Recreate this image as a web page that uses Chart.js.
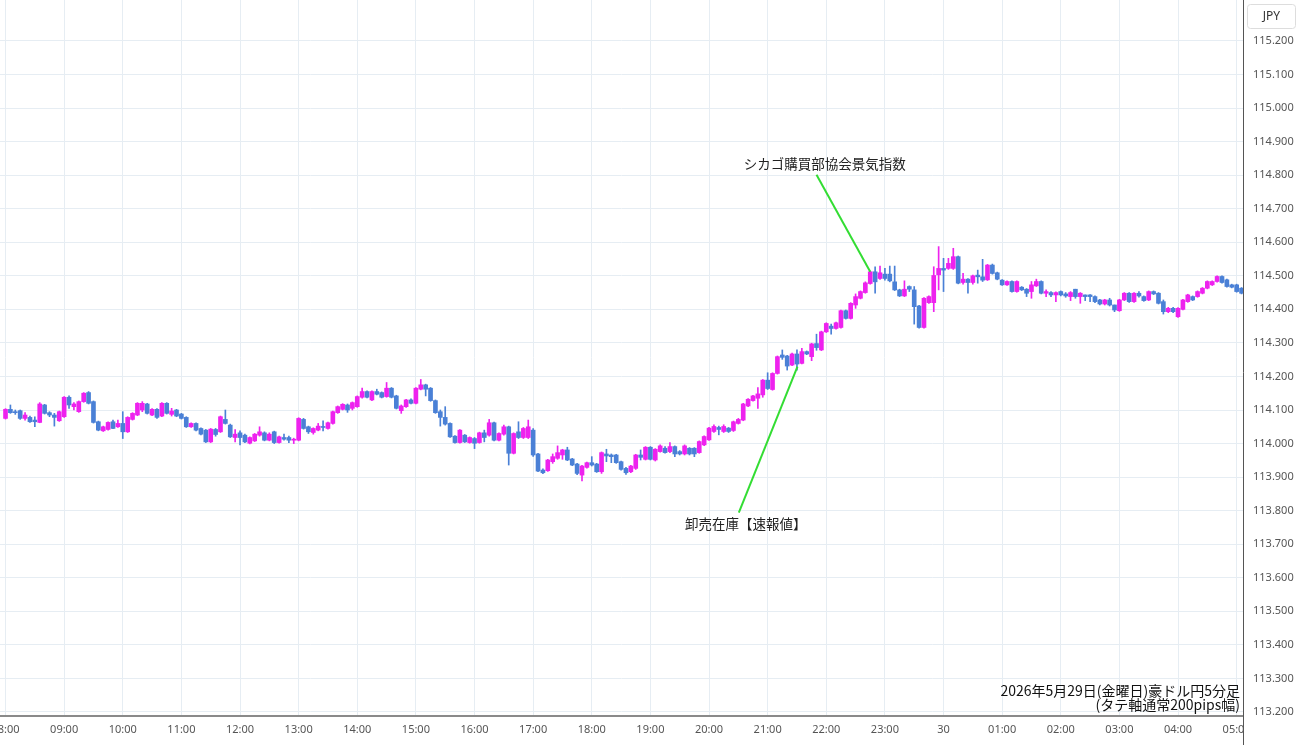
<!DOCTYPE html>
<html lang="ja">
<head>
<meta charset="utf-8">
<title>豪ドル円 5分足</title>
<script src="https://cdn.jsdelivr.net/npm/chart.js@4.4.1/dist/chart.umd.min.js"></script>
<style>
  html, body { margin: 0; padding: 0; background: #fff; }
  #wrap { width: 1300px; height: 745px; position: relative; }
</style>
</head>
<body>
<div id="wrap"><canvas id="chart"></canvas></div>
<script>
// 5-minute candles, index 0 = 08:00, one step = 5 min
const opens = [
  114.075,114.102,114.095,114.098,114.075,114.078,114.070,114.063,114.115,114.092,
  114.085,114.068,114.080,114.138,114.110,114.095,114.125,114.152,114.125,114.065,
  114.038,114.042,114.065,114.050,114.060,114.035,114.072,114.085,114.100,114.118,
  114.085,114.102,114.082,114.120,114.087,114.100,114.088,114.078,114.050,114.060,
  114.045,114.040,114.005,114.042,114.035,114.072,114.055,114.018,114.032,114.025,
  114.001,114.008,114.025,114.032,114.010,114.035,114.003,114.018,114.018,114.010,
  114.010,114.072,114.050,114.033,114.040,114.050,114.045,114.060,114.092,114.102,
  114.115,114.105,114.110,114.138,114.155,114.130,114.155,114.152,114.140,114.165,
  114.142,114.098,114.110,114.130,114.120,114.162,114.175,114.165,114.128,114.095,
  114.078,114.060,114.022,114.003,114.025,114.003,114.015,114.003,114.032,114.025,
  114.062,114.010,114.028,114.050,113.971,114.035,114.018,114.018,114.040,113.969,
  113.921,113.919,113.946,113.956,113.966,113.981,113.954,113.939,113.906,113.929,
  113.943,113.939,113.916,113.969,113.966,113.966,113.946,113.926,113.916,113.926,
  113.966,113.953,113.989,113.951,113.976,113.986,113.976,113.991,113.976,113.969,
  113.986,113.986,113.973,113.996,114.011,114.036,114.048,114.036,114.046,114.039,
  114.060,114.070,114.112,114.128,114.135,114.145,114.189,114.161,114.209,114.264,
  114.261,114.234,114.267,114.239,114.274,114.259,114.298,114.279,114.333,114.350,
  114.343,114.346,114.396,114.373,114.413,114.433,114.450,114.477,114.512,114.492,
  114.505,114.505,114.482,114.458,114.440,114.468,114.458,114.410,114.346,114.420,
  114.420,114.503,114.522,114.522,114.522,114.557,114.480,114.490,114.480,114.502,
  114.497,114.488,114.532,114.509,114.487,114.473,114.483,114.453,114.466,114.460,
  114.453,114.470,114.483,114.448,114.450,114.443,114.453,114.446,114.438,114.460,
  114.438,114.443,114.443,114.438,114.428,114.416,114.428,114.413,114.396,114.428,
  114.448,114.423,114.448,114.438,114.428,114.453,114.448,114.423,114.393,114.403,
  114.378,114.400,114.423,114.438,114.438,114.448,114.463,114.473,114.483,114.498,
  114.488,114.473,114.473,114.463
];
const highs = [
  114.104,114.115,114.100,114.100,114.092,114.082,114.080,114.122,114.117,114.095,
  114.090,114.097,114.140,114.142,114.122,114.127,114.152,114.155,114.127,114.067,
  114.052,114.065,114.070,114.070,114.095,114.080,114.092,114.122,114.125,114.120,
  114.104,114.104,114.122,114.122,114.105,114.102,114.090,114.080,114.062,114.062,
  114.047,114.042,114.045,114.045,114.082,114.100,114.058,114.042,114.038,114.028,
  114.020,114.030,114.050,114.035,114.032,114.037,114.022,114.028,114.022,114.016,
  114.077,114.075,114.052,114.047,114.060,114.068,114.064,114.097,114.112,114.119,
  114.118,114.124,114.142,114.165,114.157,114.157,114.162,114.154,114.182,114.167,
  114.144,114.115,114.132,114.133,114.167,114.191,114.177,114.167,114.130,114.100,
  114.110,114.062,114.024,114.042,114.027,114.020,114.018,114.034,114.040,114.072,
  114.064,114.032,114.055,114.052,114.032,114.065,114.048,114.070,114.045,113.971,
  113.925,113.953,113.969,113.993,113.983,113.989,113.956,113.941,113.935,113.945,
  113.961,113.941,113.975,113.983,113.969,113.968,113.948,113.929,113.935,113.968,
  113.981,113.991,113.991,113.985,113.996,113.991,114.003,113.993,113.979,113.996,
  113.988,113.988,114.008,114.023,114.048,114.056,114.052,114.056,114.048,114.067,
  114.075,114.120,114.134,114.144,114.167,114.191,114.211,114.211,114.261,114.279,
  114.263,114.270,114.279,114.284,114.276,114.299,114.326,114.335,114.360,114.356,
  114.362,114.398,114.398,114.420,114.446,114.455,114.482,114.514,114.527,114.529,
  114.522,114.529,114.529,114.460,114.485,114.470,114.468,114.412,114.435,114.440,
  114.527,114.587,114.552,114.552,114.582,114.559,114.507,114.492,114.502,114.517,
  114.549,114.534,114.535,114.511,114.489,114.485,114.485,114.485,114.468,114.462,
  114.483,114.490,114.485,114.458,114.453,114.452,114.455,114.450,114.453,114.460,
  114.450,114.443,114.444,114.440,114.430,114.430,114.433,114.413,114.430,114.450,
  114.450,114.450,114.453,114.440,114.455,114.455,114.450,114.428,114.406,114.406,
  114.405,114.430,114.445,114.440,114.455,114.465,114.485,114.485,114.500,114.500,
  114.490,114.475,114.475,114.465
];
const lows = [
  114.073,114.090,114.087,114.072,114.070,114.063,114.050,114.062,114.088,114.080,
  114.052,114.066,114.078,114.105,114.100,114.093,114.123,114.118,114.061,114.038,
  114.036,114.040,114.044,114.048,114.015,114.033,114.070,114.083,114.095,114.088,
  114.083,114.075,114.080,114.088,114.082,114.080,114.073,114.048,114.048,114.038,
  114.026,114.003,114.003,114.022,114.033,114.058,114.018,114.005,113.996,114.003,
  113.999,114.006,114.022,114.008,114.008,114.000,114.001,114.010,114.003,114.000,
  114.008,114.043,114.030,114.028,114.038,114.038,114.043,114.058,114.090,114.100,
  114.093,114.100,114.108,114.135,114.136,114.128,114.145,114.136,114.138,114.136,
  114.103,114.090,114.108,114.118,114.118,114.160,114.142,114.126,114.090,114.052,
  114.055,114.018,114.001,114.001,114.003,114.001,113.985,114.001,114.005,114.022,
  114.008,114.008,114.025,113.936,113.969,114.015,114.015,114.015,113.962,113.916,
  113.910,113.917,113.941,113.953,113.953,113.949,113.934,113.907,113.889,113.927,
  113.933,113.914,113.911,113.946,113.943,113.941,113.921,113.908,113.913,113.923,
  113.951,113.951,113.951,113.948,113.974,113.971,113.973,113.961,113.966,113.966,
  113.966,113.961,113.971,113.994,114.009,114.033,114.026,114.033,114.033,114.036,
  114.058,114.068,114.110,114.126,114.105,114.138,114.161,114.159,114.207,114.251,
  114.219,114.232,114.219,114.237,114.265,114.247,114.278,114.277,114.331,114.326,
  114.341,114.344,114.371,114.371,114.403,114.431,114.448,114.475,114.448,114.489,
  114.487,114.482,114.456,114.438,114.438,114.453,114.356,114.344,114.344,114.418,
  114.393,114.458,114.453,114.519,114.519,114.476,114.475,114.448,114.475,114.478,
  114.483,114.486,114.505,114.488,114.471,114.471,114.451,114.451,114.456,114.438,
  114.433,114.468,114.446,114.438,114.438,114.423,114.440,114.436,114.426,114.433,
  114.418,114.426,114.423,114.420,114.413,114.413,114.410,114.393,114.394,114.426,
  114.421,114.421,114.436,114.424,114.426,114.444,114.416,114.386,114.390,114.390,
  114.376,114.398,114.421,114.426,114.436,114.446,114.461,114.471,114.481,114.478,
  114.466,114.464,114.451,114.446
];
const closes = [
  114.102,114.092,114.092,114.075,114.085,114.065,114.065,114.118,114.090,114.085,
  114.078,114.095,114.138,114.115,114.118,114.125,114.150,114.120,114.063,114.040,
  114.050,114.063,114.045,114.060,114.035,114.078,114.090,114.120,114.120,114.090,
  114.102,114.078,114.120,114.090,114.097,114.082,114.075,114.050,114.060,114.040,
  114.028,114.005,114.043,114.027,114.080,114.060,114.020,114.028,114.018,114.005,
  114.018,114.028,114.035,114.010,114.028,114.003,114.020,114.013,114.010,114.013,
  114.075,114.045,114.035,114.045,114.052,114.048,114.062,114.095,114.110,114.117,
  114.100,114.122,114.140,114.155,114.138,114.155,114.147,114.138,114.165,114.138,
  114.105,114.112,114.130,114.120,114.165,114.175,114.162,114.128,114.092,114.078,
  114.058,114.020,114.003,114.040,114.005,114.018,114.001,114.032,114.018,114.062,
  114.010,114.030,114.050,113.971,114.030,114.018,114.045,114.050,113.966,113.918,
  113.913,113.951,113.961,113.973,113.981,113.951,113.936,113.911,113.933,113.943,
  113.936,113.916,113.973,113.963,113.961,113.943,113.923,113.913,113.933,113.966,
  113.959,113.989,113.953,113.983,113.993,113.973,113.991,113.969,113.969,113.993,
  113.969,113.969,114.006,114.021,114.046,114.051,114.042,114.051,114.036,114.065,
  114.072,114.118,114.132,114.142,114.148,114.189,114.164,114.209,114.259,114.257,
  114.231,114.267,114.237,114.274,114.267,114.297,114.286,114.333,114.358,114.343,
  114.360,114.396,114.373,114.418,114.438,114.453,114.479,114.512,114.482,114.509,
  114.492,114.485,114.458,114.440,114.460,114.460,114.408,114.346,114.433,114.438,
  114.501,114.522,114.517,114.537,114.557,114.478,114.490,114.480,114.500,114.497,
  114.487,114.532,114.507,114.490,114.473,114.483,114.453,114.483,114.458,114.448,
  114.473,114.483,114.448,114.453,114.443,114.450,114.443,114.440,114.450,114.438,
  114.448,114.438,114.438,114.423,114.416,114.428,114.413,114.398,114.428,114.448,
  114.423,114.448,114.440,114.426,114.453,114.446,114.418,114.393,114.403,114.393,
  114.403,114.428,114.443,114.428,114.453,114.463,114.483,114.483,114.498,114.480,
  114.468,114.466,114.453,114.448
];

// x-axis hour ticks (candle index) and their labels
const hourTicks = [0, 12, 24, 36, 48, 60, 72, 84, 96, 108, 120, 132, 144, 156, 168, 180, 192, 204, 216, 228, 240, 252];
const hourLabels = ["08:00", "09:00", "10:00", "11:00", "12:00", "13:00", "14:00", "15:00", "16:00", "17:00", "18:00",
  "19:00", "20:00", "21:00", "22:00", "23:00", "30", "01:00", "02:00", "03:00", "04:00", "05:00"];
const priceTicks = [113.2, 113.3, 113.4, 113.5, 113.6, 113.7, 113.8, 113.9, 114.0, 114.1,
  114.2, 114.3, 114.4, 114.5, 114.6, 114.7, 114.8, 114.9, 115.0, 115.1, 115.2];

// event notes, anchored in (candle index, price)
const notes = [
  { text: "シカゴ購買部協会景気指数", at: [167.7, 114.833], from: [166.0, 114.801], to: [177.0, 114.512] },
  { text: "卸売在庫【速報値】", at: [151.5, 113.762], from: [150.1, 113.794], to: [162.1, 114.229] }
];
const titleLines = ["2026年5月29日(金曜日)豪ドル円5分足", "(タテ軸通常200pips幅)"];

const UP = "#ee22ee";
const DOWN = "#4a80d6";
const GRID = "#e6edf3";
const candleColors = opens.map((o, i) => closes[i] > o ? UP : DOWN);

const overlay = {
  id: "overlay",
  afterDraw(chart) {
    const ctx = chart.ctx;
    const xs = chart.scales.x, ys = chart.scales.y;
    const area = chart.chartArea;
    ctx.save();

    // clip the last hour label at the price axis
    ctx.fillStyle = "#fff";
    ctx.fillRect(area.right + 1, area.bottom + 3, 60, 40);

    // price axis line
    ctx.strokeStyle = "#555";
    ctx.lineWidth = 1;
    ctx.beginPath();
    ctx.moveTo(Math.round(area.right) + 0.5, 0);
    ctx.lineTo(Math.round(area.right) + 0.5, chart.height);
    ctx.stroke();

    // currency box
    ctx.strokeStyle = "#ddd";
    ctx.fillStyle = "#fff";
    ctx.beginPath();
    ctx.roundRect(area.right + 4.5, 4.5, 48, 24, 3);
    ctx.fill();
    ctx.stroke();
    ctx.fillStyle = "#333";
    ctx.font = "12px 'Noto Sans', sans-serif";
    ctx.textAlign = "center";
    ctx.textBaseline = "middle";
    ctx.fillText("JPY", area.right + 28.5, 17);

    // event notes
    notes.forEach(n => {
      ctx.strokeStyle = "#33dd33";
      ctx.lineWidth = 2;
      ctx.beginPath();
      ctx.moveTo(xs.getPixelForValue(n.from[0]), ys.getPixelForValue(n.from[1]));
      ctx.lineTo(xs.getPixelForValue(n.to[0]), ys.getPixelForValue(n.to[1]));
      ctx.stroke();
      ctx.fillStyle = "#222";
      ctx.font = "13.5px 'Noto Sans CJK JP', sans-serif";
      ctx.textAlign = "center";
      ctx.textBaseline = "middle";
      ctx.fillText(n.text, xs.getPixelForValue(n.at[0]), ys.getPixelForValue(n.at[1]));
    });

    // chart caption bottom right
    ctx.fillStyle = "#111";
    ctx.font = "14px 'Noto Sans CJK JP', sans-serif";
    ctx.textAlign = "right";
    ctx.textBaseline = "middle";
    ctx.fillText(titleLines[0], area.right - 3, area.bottom - 25);
    ctx.fillText(titleLines[1], area.right - 3, area.bottom - 11);
    ctx.restore();
  }
};

new Chart(document.getElementById("chart"), {
  type: "bar",
  data: {
    datasets: [
      {
        label: "body",
        data: opens.map((o, i) => ({ x: i, y: [o, closes[i]] })),
        backgroundColor: candleColors,
        barThickness: 4,
        minBarLength: 1,
        grouped: false
      },
      {
        label: "wick",
        data: opens.map((o, i) => ({ x: i, y: [lows[i], highs[i]] })),
        backgroundColor: candleColors,
        barThickness: 1,
        minBarLength: 1,
        grouped: false
      }
    ]
  },
  plugins: [overlay],
  options: {
    responsive: true,
    maintainAspectRatio: false,
    animation: false,
    layout: { padding: 0 },
    plugins: { legend: { display: false }, tooltip: { enabled: false } },
    scales: {
      x: {
        type: "linear",
        min: -1.13,
        max: 253.3,
        offset: false,
        grid: { color: GRID, offset: false, drawTicks: false },
        border: { color: "#8a8a8a", width: 2 },
        afterBuildTicks: axis => { axis.ticks = hourTicks.map(v => ({ value: v })); },
        afterFit: axis => { axis.height = 29; axis.paddingLeft = 0; axis.paddingRight = 0; },
        ticks: {
          autoSkip: false,
          maxRotation: 0,
          padding: 7,
          color: "#555",
          font: { family: "'Noto Sans', sans-serif", size: 11 },
          callback: v => hourLabels[hourTicks.indexOf(v)]
        }
      },
      y: {
        position: "right",
        min: 113.188,
        max: 115.322,
        grid: { color: GRID, drawTicks: false },
        border: { display: false },
        afterBuildTicks: axis => { axis.ticks = priceTicks.map(v => ({ value: v })); },
        afterFit: axis => { axis.width = 57; axis.paddingTop = 0; axis.paddingBottom = 0; },
        ticks: {
          padding: 10,
          color: "#555",
          font: { family: "'Noto Sans', sans-serif", size: 11 },
          callback: v => v.toFixed(3)
        }
      }
    }
  }
});
</script>
</body>
</html>
